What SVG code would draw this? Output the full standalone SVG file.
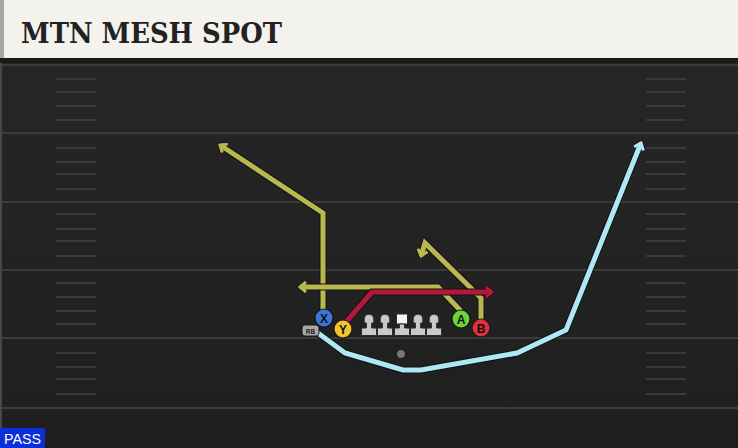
<svg xmlns="http://www.w3.org/2000/svg" width="738" height="448" viewBox="0 0 738 448">
<style>
.yard{stroke:#3b3b3b;stroke-width:2}
.hash{stroke:#3a3a3a;stroke-width:2}
.out{fill:none;stroke:#121212;stroke-width:7;stroke-linejoin:miter;stroke-linecap:butt}
.ry{fill:none;stroke:#b9b84f;stroke-width:5;stroke-linejoin:miter}
.rr{fill:none;stroke:#b3173b;stroke-width:5;stroke-linejoin:miter}
.rb{fill:none;stroke:#aee9f3;stroke-width:5;stroke-linejoin:miter}
.pl{stroke:#1a1a1a;stroke-width:1.2}
.lbl{font-family:"Liberation Sans",Arial,sans-serif;font-weight:bold;font-size:12px;fill:#111;text-anchor:middle}
.ol{fill:#c9c9c9;stroke:#2a2a2a;stroke-width:1}
</style>
<defs>
<linearGradient id="fg" x1="0" y1="0" x2="0" y2="1">
<stop offset="0" stop-color="#272727"/>
<stop offset="1" stop-color="#1f1f1f"/>
</linearGradient>
<marker id="ao" viewBox="-2 -2 12 14" refX="7" refY="5" markerWidth="12" markerHeight="14" markerUnits="userSpaceOnUse" orient="auto">
<path d="M1,0 L7,5 L1,10" fill="none" stroke="#121212" stroke-width="4.8"/>
</marker>
<marker id="ay" viewBox="-2 -2 12 14" refX="7" refY="5" markerWidth="12" markerHeight="14" markerUnits="userSpaceOnUse" orient="auto">
<path d="M1,0 L7,5 L1,10" fill="none" stroke="#b9b84f" stroke-width="3"/>
</marker>
<marker id="ar" viewBox="-2 -2 12 14" refX="7" refY="5" markerWidth="12" markerHeight="14" markerUnits="userSpaceOnUse" orient="auto">
<path d="M1,0 L7,5 L1,10" fill="none" stroke="#b3173b" stroke-width="3"/>
</marker>
<marker id="ab" viewBox="-2 -2 12 14" refX="7" refY="5" markerWidth="12" markerHeight="14" markerUnits="userSpaceOnUse" orient="auto">
<path d="M1,0 L7,5 L1,10" fill="none" stroke="#aee9f3" stroke-width="3"/>
</marker>
<g id="lineman">
<path d="M-4.8,-8 V-12 A4.8,4.8 0 0 1 4.8,-12 V-8 H2.6 V-3 H6.5 Q7.5,-3 7.5,-2 V3.5 Q7.5,4.5 6.5,4.5 H-6.5 Q-7.5,4.5 -7.5,3.5 V-2 Q-7.5,-3 -6.5,-3 H-2.6 V-8 Z" class="ol"/>
</g>
</defs>

<!-- field -->
<rect x="0" y="0" width="738" height="448" fill="url(#fg)"/>
<rect x="0" y="58" width="738" height="5" fill="#1a1a1a"/>
<g id="yardlines">
<line class="yard" x1="0" y1="65" x2="738" y2="65"/>
<line class="yard" x1="0" y1="133" x2="738" y2="133"/>
<line class="yard" x1="0" y1="202" x2="738" y2="202"/>
<line class="yard" x1="0" y1="270" x2="738" y2="270"/>
<line class="yard" x1="0" y1="338" x2="738" y2="338"/>
<line class="yard" x1="0" y1="408" x2="738" y2="408" stroke="#333"/>
</g>
<g id="hashes">
<path class="hash" d="M56 79H96M56 92H96M56 106H96M56 120H96M56 148H96M56 162H96M56 174H96M56 189H96M56 214H96M56 229H96M56 241H96M56 256H96M56 283H96M56 297H96M56 311H96M56 324H96M56 353H96M56 367H96M56 379H96M56 394H96"/>
<path class="hash" d="M646 79H686M646 92H686M646 106H686M646 120H686M646 148H686M646 162H686M646 174H686M646 189H686M646 214H686M646 229H686M646 241H686M646 256H686M646 283H686M646 297H686M646 311H686M646 324H686M646 353H686M646 367H686M646 379H686M646 394H686"/>
</g>
<rect x="0" y="63" width="2" height="385" fill="#474747"/>

<!-- header -->
<g id="header">
<rect x="0" y="0" width="738" height="58" fill="#f4f2ec"/>
<rect x="0" y="0" width="4" height="58" fill="#a6a6a6"/>
<text x="21" y="43" font-family="'DejaVu Serif',serif" font-weight="bold" font-size="28" fill="#222" textLength="261" lengthAdjust="spacingAndGlyphs">MTN MESH SPOT</text>
</g>

<!-- connectors -->
<g id="routes">
<path class="out" d="M323 310 V213 L220 145" marker-end="url(#ao)"/>
<path class="ry" d="M323 310 V213 L220 145" marker-end="url(#ay)"/>
<path class="out" d="M461 311 L438 287 H300" marker-end="url(#ao)"/>
<path class="ry" d="M461 311 L438 287 H300" marker-end="url(#ay)"/>
<path class="out" d="M481 321 V298 L425 243 L421 256" marker-end="url(#ao)"/>
<path class="ry" d="M481 321 V298 L425 243 L421 256" marker-end="url(#ay)"/>
<path class="out" d="M346 322 L372 292 H492" marker-end="url(#ao)"/>
<path class="rr" d="M346 322 L372 292 H492" marker-end="url(#ar)"/>
<path class="out" d="M318 333 L345 353 L403 370 H421 L517 353 L566 330 L641 143" marker-end="url(#ao)"/>
<path class="rb" d="M318 333 L345 353 L403 370 H421 L517 353 L566 330 L641 143" marker-end="url(#ab)"/>
</g>

<!-- players -->
<g id="ball"><circle cx="401" cy="354" r="4.5" fill="#777" stroke="#1a1a1a" stroke-width="1"/></g>
<g id="RB">
<rect x="302" y="325" width="17" height="11" rx="3" fill="#a9a9a9" stroke="#1a1a1a" stroke-width="1"/>
<text x="310.5" y="333.5" font-family="'Liberation Sans',Arial,sans-serif" font-weight="bold" font-size="6.5" fill="#222" text-anchor="middle">RB</text>
</g>
<g id="OL">
<use href="#lineman" x="369" y="331"/>
<use href="#lineman" x="385" y="331"/>
<g>
<rect x="396.5" y="314" width="11" height="10" fill="#f4f4f4" stroke="#2a2a2a" stroke-width="1"/>
<path d="M399.4,324 H404.6 V328 H408.5 Q409.5,328 409.5,329 V334.5 Q409.5,335.5 408.5,335.5 H395.5 Q394.5,335.5 394.5,334.5 V329 Q394.5,328 395.5,328 H399.4 Z" class="ol"/>
</g>
<use href="#lineman" x="418" y="331"/>
<use href="#lineman" x="434" y="331"/>
</g>
<g id="X"><circle cx="324" cy="318" r="9" fill="#3c74dc" class="pl"/><text class="lbl" x="324" y="322.5">X</text></g>
<g id="Y"><circle cx="343" cy="329" r="9" fill="#f3c230" class="pl"/><text class="lbl" x="343" y="333.5">Y</text></g>
<g id="A"><circle cx="461" cy="319" r="9" fill="#6fd43a" class="pl"/><text class="lbl" x="461" y="323.5">A</text></g>
<g id="B"><circle cx="481" cy="328" r="9" fill="#e1303c" class="pl"/><text class="lbl" x="481" y="332.5">B</text></g>

<!-- pass tag -->
<g id="pass">
<rect x="0" y="428" width="45" height="20" fill="#0b2fd8"/>
<text x="4" y="444" font-family="'Liberation Sans',Arial,sans-serif" font-size="15" fill="#fff" textLength="37" lengthAdjust="spacingAndGlyphs">PASS</text>
</g>
</svg>
